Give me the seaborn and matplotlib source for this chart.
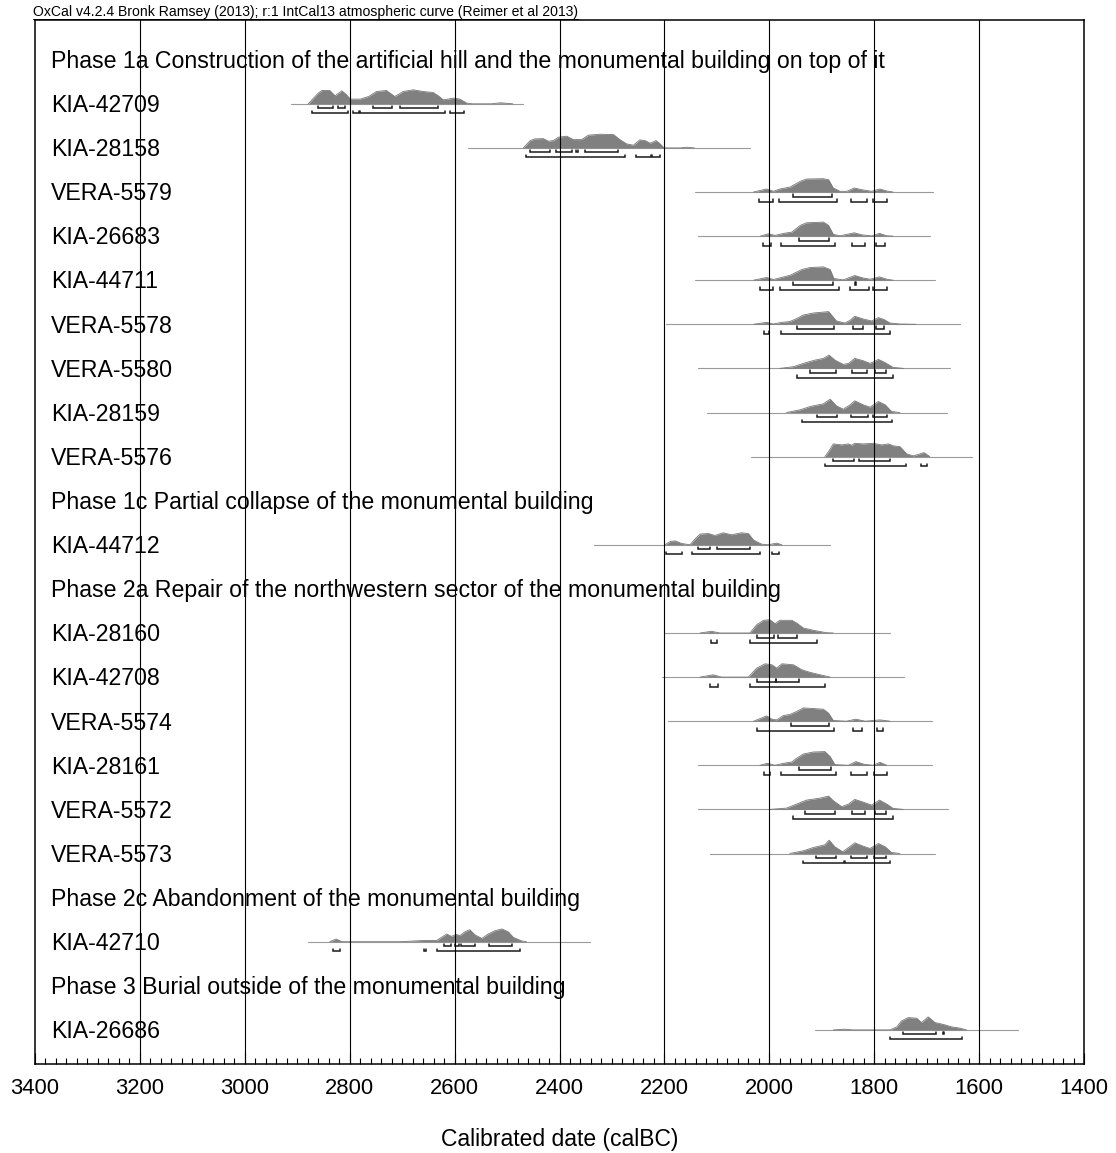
import matplotlib
matplotlib.use("Agg")
import matplotlib.pyplot as plt
from matplotlib.lines import Line2D
from matplotlib.ticker import MultipleLocator
import pandas as pd
import seaborn as sns

HEADER = "OxCal v4.2.4 Bronk Ramsey (2013); r:1 IntCal13 atmospheric curve (Reimer et al 2013)"

row_labels = [
    "Phase 1a Construction of the artificial hill and the monumental building on top of it",
    "KIA-42709", "KIA-28158", "VERA-5579", "KIA-26683", "KIA-44711",
    "VERA-5578", "VERA-5580", "KIA-28159", "VERA-5576",
    "Phase 1c Partial collapse of the monumental building",
    "KIA-44712",
    "Phase 2a Repair of the northwestern sector of the monumental building",
    "KIA-28160", "KIA-42708", "VERA-5574", "KIA-28161", "VERA-5572", "VERA-5573",
    "Phase 2c Abandonment of the monumental building",
    "KIA-42710",
    "Phase 3 Burial outside of the monumental building",
    "KIA-26686",
]

# calibrated curves: (year calBC, relative probability), plotted span, 68.2% and 95.4% ranges
kia42709_curve = [(2879, 0), (2860, 10.7), (2853, 13.3), (2838, 13.3), (2828, 8), (2815, 13), (2806, 9),
                  (2799, 4.7), (2780, 4.7), (2764, 7.3), (2749, 12.3), (2730, 13.3), (2714, 7.3), (2698, 12.3),
                  (2679, 14), (2660, 12.3), (2641, 11.3), (2631, 8), (2622, 4), (2612, 4.7), (2602, 5.7),
                  (2590, 4.7), (2577, 0.7), (2566, 0), (2530, 0), (2513, 1), (2489, 0)]
kia42709_span = (2911, 2470)
kia42709_r68 = [(2860, 2831), (2822, 2809), (2755, 2720), (2704, 2631)]
kia42709_r95 = [(2872, 2803), (2794, 2782), (2780, 2618), (2609, 2583)]

kia28158_curve = [(2469, 0), (2456, 7.3), (2447, 9), (2431, 9.3), (2421, 6.7), (2412, 7.3), (2402, 10.7),
                  (2386, 11.7), (2374, 8.3), (2358, 8.3), (2345, 12.7), (2323, 13.7), (2297, 13.3), (2285, 8.3),
                  (2272, 4), (2259, 2.7), (2247, 8), (2237, 7.3), (2227, 4.7), (2216, 7.3), (2208, 4),
                  (2201, 0), (2170, 0), (2158, 0.7), (2143, 0)]
kia28158_span = (2574, 2037)
kia28158_r68 = [(2456, 2418), (2407, 2377), (2368, 2364), (2351, 2288)]
kia28158_r95 = [(2463, 2275), (2254, 2226), (2224, 2208)]

vera5579_curve = [(2030, 0), (2005, 3), (1992, 0.7), (1980, 3), (1960, 5), (1941, 10.7), (1929, 13),
                  (1897, 13.3), (1887, 12.3), (1878, 4), (1865, 0.7), (1852, 0.7), (1838, 4), (1824, 2.3),
                  (1805, 0.7), (1789, 3), (1776, 1), (1764, 0)]
vera5579_span = (2142, 1687)
vera5579_r68 = [(1954, 1881)]
vera5579_r95 = [(2019, 1993), (1981, 1871), (1845, 1813), (1802, 1776)]

kia26683_curve = [(2017, 0), (2002, 2.3), (1989, 0.7), (1973, 2.7), (1957, 4), (1941, 10.7), (1929, 13.3),
                  (1897, 14), (1887, 10.7), (1878, 1.7), (1865, 0.3), (1838, 3.3), (1824, 1.3), (1805, 0.2),
                  (1790, 2.7), (1776, 0.3), (1764, 0)]
kia26683_span = (2135, 1694)
kia26683_r68 = [(1943, 1886)]
kia26683_r95 = [(2012, 1997), (1978, 1875), (1843, 1818), (1797, 1780)]

kia44711_curve = [(2030, 0), (2005, 2.7), (1992, 0.7), (1977, 2.7), (1960, 5), (1938, 10.7), (1922, 12.7),
                  (1897, 13.3), (1884, 10.7), (1877, 1.7), (1859, 0.3), (1837, 4.7), (1822, 2.3), (1808, 1),
                  (1790, 3.3), (1776, 1), (1764, 0)]
kia44711_span = (2142, 1684)
kia44711_r68 = [(1954, 1879), (1836, 1834)]
kia44711_r95 = [(2017, 1993), (1980, 1868), (1846, 1809), (1803, 1775)]

vera5578_curve = [(2030, 0), (2005, 2), (1992, 0.3), (1976, 2), (1961, 2.7), (1948, 5.7), (1935, 9.3),
                  (1916, 11.3), (1887, 12.7), (1881, 9), (1872, 3.3), (1856, 1.3), (1846, 4), (1837, 8),
                  (1821, 5.3), (1805, 3.3), (1792, 6.7), (1781, 4.7), (1770, 1.3), (1751, 0.3), (1720, 0)]
vera5578_span = (2196, 1636)
vera5578_r68 = [(1947, 1877), (1841, 1821), (1797, 1781)]
vera5578_r95 = [(2011, 2000), (1978, 1769)]

vera5580_curve = [(1980, 0), (1954, 1.7), (1935, 5), (1913, 8.3), (1897, 10), (1886, 13.3), (1875, 8.3),
                  (1859, 4), (1849, 5), (1837, 10), (1821, 7.7), (1808, 5), (1792, 9), (1779, 5.7),
                  (1764, 1), (1744, 0)]
vera5580_span = (2135, 1655)
vera5580_r68 = [(1922, 1873), (1843, 1814), (1798, 1778)]
vera5580_r95 = [(1948, 1765)]

kia28159_curve = [(1967, 0), (1941, 2.7), (1922, 6), (1897, 8.7), (1884, 13.3), (1872, 6.7), (1859, 3.3),
                  (1846, 7.7), (1837, 11.7), (1821, 7.7), (1808, 5.3), (1792, 11), (1779, 7.7), (1767, 1),
                  (1751, 0)]
kia28159_span = (2119, 1662)
kia28159_r68 = [(1910, 1870), (1845, 1811), (1802, 1776)]
kia28159_r95 = [(1937, 1767)]

vera5576_curve = [(1894, 0), (1887, 5), (1878, 12.7), (1862, 11.7), (1849, 12.7), (1843, 11.3), (1837, 13.3),
                  (1821, 12.7), (1802, 13.3), (1786, 11.7), (1773, 12.7), (1763, 10.7), (1751, 10),
                  (1738, 2.7), (1725, 0.7), (1713, 2.7), (1705, 4), (1694, 0)]
vera5576_span = (2034, 1614)
vera5576_r68 = [(1879, 1839), (1829, 1769)]
vera5576_r95 = [(1893, 1739), (1711, 1699)]

kia44712_curve = [(2199, 0), (2189, 3.3), (2180, 4), (2167, 1.3), (2151, 0), (2142, 5.7), (2132, 10.7),
                  (2116, 11.3), (2104, 9.3), (2088, 12), (2072, 10), (2053, 12), (2040, 11.3), (2030, 4.7),
                  (2015, 0.7), (2002, 0), (1986, 1.7), (1976, 0)]
kia44712_span = (2335, 1884)
kia44712_r68 = [(2135, 2113), (2100, 2037)]
kia44712_r95 = [(2197, 2167), (2148, 2018), (1994, 1981)]

kia28160_curve = [(2132, 0), (2110, 1.7), (2094, 0), (2037, 0), (2024, 8.3), (2011, 12.7), (1999, 13.3),
                  (1989, 9.3), (1980, 12.7), (1957, 12.7), (1948, 10), (1935, 5), (1916, 2.7), (1891, 0.3),
                  (1878, 0)]
kia28160_span = (2199, 1770)
kia28160_r68 = [(2023, 1991), (1984, 1948)]
kia28160_r95 = [(2112, 2099), (2036, 1910)]

kia42708_curve = [(2132, 0), (2107, 2.3), (2091, 0), (2040, 0), (2024, 9), (2008, 13.3), (1995, 12.3),
                  (1986, 9), (1976, 13.3), (1954, 12.3), (1938, 7.3), (1922, 4.7), (1903, 2.3), (1884, 0)]
kia42708_span = (2205, 1744)
kia42708_r68 = [(2024, 1988), (1987, 1943)]
kia42708_r95 = [(2114, 2097), (2037, 1894)]

vera5574_curve = [(2030, 0), (2005, 5.3), (1995, 2), (1986, 1.3), (1973, 5.7), (1961, 6.7), (1948, 9.7),
                  (1935, 13.3), (1897, 12), (1887, 8), (1878, 0.7), (1853, 0), (1835, 2), (1817, 0),
                  (1789, 1.3), (1770, 0)]
vera5574_span = (2193, 1690)
vera5574_r68 = [(1959, 1886)]
vera5574_r95 = [(2024, 1877), (1840, 1824), (1794, 1783)]

kia28161_curve = [(2018, 0), (2004, 2), (1989, 0), (1973, 2), (1957, 3.3), (1948, 7), (1935, 11.3),
                  (1916, 13.3), (1894, 13.7), (1884, 8.7), (1875, 0.7), (1849, 0), (1835, 3.7), (1819, 1),
                  (1802, 0), (1789, 3), (1776, 0)]
kia28161_span = (2135, 1690)
kia28161_r68 = [(1943, 1883)]
kia28161_r95 = [(2011, 1999), (1978, 1873), (1845, 1813), (1800, 1776)]

vera5572_curve = [(1999, 0), (1967, 1.3), (1948, 5.3), (1929, 9.3), (1903, 11.3), (1887, 13.3), (1878, 8.7),
                  (1862, 2.7), (1849, 5.3), (1837, 10), (1821, 7.3), (1805, 4.3), (1790, 9.3), (1776, 5.3),
                  (1764, 1), (1745, 0)]
vera5572_span = (2135, 1659)
vera5572_r68 = [(1931, 1874), (1842, 1818), (1798, 1777)]
vera5572_r95 = [(1954, 1765)]

vera5573_curve = [(1961, 0), (1935, 2.7), (1916, 6), (1894, 8.7), (1886, 13.3), (1875, 6.7), (1860, 1.7),
                  (1847, 6.7), (1837, 10.7), (1821, 7.3), (1808, 5), (1792, 10), (1779, 6.7), (1767, 1),
                  (1751, 0)]
vera5573_span = (2114, 1684)
vera5573_r68 = [(1911, 1873), (1844, 1814), (1800, 1778)]
vera5573_r95 = [(1935, 1857), (1856, 1770)]

kia42710_curve = [(2838, 0), (2826, 2.7), (2815, 0), (2704, 0), (2656, 1.3), (2634, 1.3), (2615, 7.7),
                  (2606, 5.3), (2597, 7.3), (2590, 6), (2580, 10), (2571, 12), (2561, 6.7), (2548, 3.3),
                  (2536, 7.7), (2523, 11), (2510, 12.7), (2498, 10), (2488, 4.3), (2472, 0.7), (2463, 0)]
kia42710_span = (2879, 2342)
kia42710_r68 = [(2620, 2606), (2599, 2591), (2587, 2561), (2534, 2491)]
kia42710_r95 = [(2832, 2819), (2658, 2654), (2633, 2475)]

kia26686_curve = [(1878, 0), (1856, 0.7), (1840, 0), (1770, 0), (1757, 3), (1748, 9), (1735, 12.3),
                  (1719, 11.7), (1710, 7.3), (1697, 13), (1684, 7.3), (1675, 6.3), (1665, 5), (1652, 3),
                  (1636, 1.7), (1624, 0)]
kia26686_span = (1913, 1525)
kia26686_r68 = [(1746, 1682), (1669, 1667)]
kia26686_r95 = [(1770, 1633)]

samples = {
    "KIA-42709": (kia42709_curve, kia42709_span, kia42709_r68, kia42709_r95),
    "KIA-28158": (kia28158_curve, kia28158_span, kia28158_r68, kia28158_r95),
    "VERA-5579": (vera5579_curve, vera5579_span, vera5579_r68, vera5579_r95),
    "KIA-26683": (kia26683_curve, kia26683_span, kia26683_r68, kia26683_r95),
    "KIA-44711": (kia44711_curve, kia44711_span, kia44711_r68, kia44711_r95),
    "VERA-5578": (vera5578_curve, vera5578_span, vera5578_r68, vera5578_r95),
    "VERA-5580": (vera5580_curve, vera5580_span, vera5580_r68, vera5580_r95),
    "KIA-28159": (kia28159_curve, kia28159_span, kia28159_r68, kia28159_r95),
    "VERA-5576": (vera5576_curve, vera5576_span, vera5576_r68, vera5576_r95),
    "KIA-44712": (kia44712_curve, kia44712_span, kia44712_r68, kia44712_r95),
    "KIA-28160": (kia28160_curve, kia28160_span, kia28160_r68, kia28160_r95),
    "KIA-42708": (kia42708_curve, kia42708_span, kia42708_r68, kia42708_r95),
    "VERA-5574": (vera5574_curve, vera5574_span, vera5574_r68, vera5574_r95),
    "KIA-28161": (kia28161_curve, kia28161_span, kia28161_r68, kia28161_r95),
    "VERA-5572": (vera5572_curve, vera5572_span, vera5572_r68, vera5572_r95),
    "VERA-5573": (vera5573_curve, vera5573_span, vera5573_r68, vera5573_r95),
    "KIA-42710": (kia42710_curve, kia42710_span, kia42710_r68, kia42710_r95),
    "KIA-26686": (kia26686_curve, kia26686_span, kia26686_r68, kia26686_r95),
}

sns.set_style("white")
plt.rcParams["font.family"] = ["Liberation Sans", "DejaVu Sans"]

W, H = 1116, 1153
fig = plt.figure(figsize=(W / 100, H / 100), dpi=100)
ax = fig.add_axes([35 / W, 1 - 1064 / H, 1049 / W, 1044 / H])

ROW = 44.1          # pixels per row
PX = 1 / ROW        # one pixel in row units
ax.set_xlim(3400, 1400)
ax.set_ylim((1064 - 59) / ROW, (20 - 59) / ROW)

# distributions
rows = []
for i, name in enumerate(row_labels):
    if name not in samples:
        continue
    curve, span, r68, r95 = samples[name]
    base = i + 0.7 * PX
    ax.plot(span, [base, base], color="#9a9a9a", lw=0.8, zorder=2)
    df = pd.DataFrame(curve, columns=["year", "p"])
    df["top"] = base - df["p"] * PX
    df["sample"] = name
    rows.append(df)
    ax.fill_between(df["year"], base, df["top"], color="#808080", lw=0, zorder=3)
    for off, ranges in ((4.5, r68), (9.5, r95)):
        yb = base + off * PX
        for a, b in ranges:
            ax.plot([a, a, b, b], [yb - 2.5 * PX, yb, yb, yb - 2.5 * PX],
                    color="#1a1a1a", lw=1.1, solid_joinstyle="miter", zorder=4)

curves = pd.concat(rows)
sns.lineplot(data=curves, x="year", y="top", units="sample", estimator=None, sort=False,
             color="#777777", lw=0.6, ax=ax, zorder=3)

# labels
for i, name in enumerate(row_labels):
    ax.text(3400 - 16 * 2000 / 1049, i, name, fontsize=16.7, va="center_baseline", ha="left",
            color="black", zorder=5)

# grid lines
for yr in range(3200, 1599, -200):
    ax.axvline(yr, color="black", lw=0.8, zorder=6)

ax.xaxis.set_major_locator(MultipleLocator(200))
ax.xaxis.set_minor_locator(MultipleLocator(20))
ax.tick_params(axis="x", which="major", direction="in", length=8, width=0.8, color="black",
               labelcolor="black", labelsize=15.8, pad=10, bottom=True)
ax.tick_params(axis="x", which="minor", direction="in", length=4, width=0.8, color="black", bottom=True)
ax.set_yticks([])
ax.set_xlabel("Calibrated date (calBC)", fontsize=16.5, labelpad=21, color="black")
ax.set_ylabel("")
for s in ax.spines.values():
    s.set_color("black")
    s.set_linewidth(1.1)

t = fig.text(33 / W, 1 - 16 / H, HEADER, fontsize=10.1, va="baseline", ha="left", color="black")
fig.canvas.draw()
bb = t.get_window_extent()
fig.add_artist(Line2D([bb.x0 / W, bb.x1 / W], [1 - 18.5 / H, 1 - 18.5 / H],
                      color="black", lw=0.7, transform=fig.transFigure))

fig.savefig("out.png", dpi=100)
